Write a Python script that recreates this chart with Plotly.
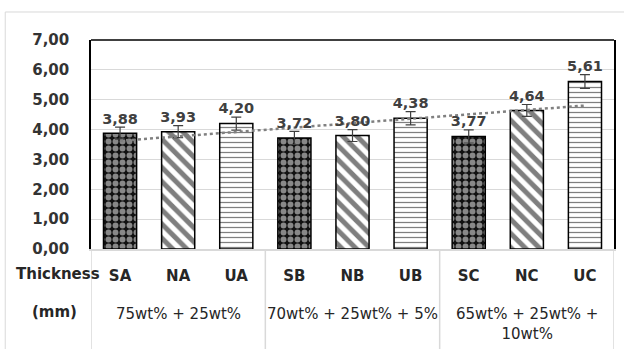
import numpy as np
import plotly.graph_objects as go

categories = ["SA", "NA", "UA", "SB", "NB", "UB", "SC", "NC", "UC"]
thickness = [3.88, 3.93, 4.20, 3.72, 3.80, 4.38, 3.77, 4.64, 5.61]
errors = [0.20, 0.20, 0.22, 0.22, 0.20, 0.22, 0.22, 0.20, 0.23]
groups = ["75wt% + 25wt%", "70wt% + 25wt% + 5%", "65wt% + 25wt% +<br>10wt%"]
group_size = 3
y_ticks = [0, 1, 2, 3, 4, 5, 6, 7]

# pattern family per leading letter: (shape, size, solidity, fg, bg)
styles = {
    "S": (".", 7, 0.55, "white", "#111111"),
    "N": ("\\", 10, 0.5, "black", "white"),
    "U": ("-", 5, 0.25, "black", "white"),
}

FONT = "DejaVu Sans"
fig = go.Figure()
for key, (shape, size, sol, fg, bg) in styles.items():
    idx = [i for i, c in enumerate(categories) if c[0] == key]
    fig.add_trace(go.Bar(
        x=[categories[i] for i in idx], y=[thickness[i] for i in idx], width=0.57,
        marker=dict(color=bg, line=dict(color="black", width=1.5),
                    pattern=dict(shape=shape, size=size, solidity=sol,
                                 fgcolor=fg, fillmode="overlay")),
        error_y=dict(type="data", array=[errors[i] for i in idx], color="#404040",
                     thickness=1.2, width=5),
        showlegend=False,
    ))

# linear trend line computed from the data
xi = np.arange(len(thickness))
coef = np.polyfit(xi, thickness, 1)
trend = np.polyval(coef, xi)
fig.add_trace(go.Scatter(x=categories, y=trend, mode="lines",
                         line=dict(color="#808080", width=2.5, dash="dot"),
                         showlegend=False, hoverinfo="skip"))

# data labels above the error bars
fig.add_trace(go.Scatter(
    x=categories, y=[v + e for v, e in zip(thickness, errors)],
    mode="text", text=[f"{v:.2f}".replace(".", ",") for v in thickness],
    textposition="top center",
    textfont=dict(family=FONT, size=14.5, color="#404040", weight="bold"),
    showlegend=False, hoverinfo="skip"))

fig.update_layout(
    width=624, height=349,
    margin=dict(l=91, r=10, t=40, b=100, autoexpand=False),
    paper_bgcolor="white", plot_bgcolor="white",
    separators=",.",
    font=dict(family=FONT, color="#404040"),
    barmode="overlay",
)
fig.update_yaxes(range=[0, 7], tickvals=y_ticks, tickformat=".2f", automargin=False,
                 showgrid=True, gridcolor="#d9d9d9", gridwidth=1,
                 showline=True, linecolor="black", linewidth=1.5, mirror=True,
                 ticks="", ticklabelstandoff=17, zeroline=False,
                 tickfont=dict(family=FONT, size=15, color="#333333", weight="bold"))
fig.update_xaxes(showline=True, linecolor="#d9d9d9", linewidth=1.5, automargin=False,
                 ticks="", ticklabelstandoff=12,
                 categoryorder="array", categoryarray=categories,
                 tickfont=dict(family=FONT, size=15, color="#262626", weight="bold"),
                 range=[-0.5, len(categories) - 0.5])

# top border of plot area
fig.add_shape(type="line", xref="paper", yref="paper", x0=0, x1=1, y0=1, y1=1,
              line=dict(color="black", width=1.5))

# group separators
for k in range(len(groups) + 1):
    xb = k * group_size - 0.5
    fig.add_shape(type="line", xref="x", yref="paper", x0=xb, x1=xb, y0=0, y1=-0.48,
                  line=dict(color="#d9d9d9", width=1.5))
for k, g in enumerate(groups):
    fig.add_annotation(x=k * group_size + 1, xref="x", y=-0.26, yref="paper",
                       text=g, showarrow=False, yanchor="top",
                       font=dict(family=FONT, size=15, color="#262626"))

fig.add_annotation(x=-0.064, xref="paper", y=-0.12, yref="paper", text="Thickness",
                   showarrow=False, xanchor="center", yanchor="middle",
                   font=dict(family=FONT, size=15, color="#262626", weight="bold"))
fig.add_annotation(x=-0.069, xref="paper", y=-0.30, yref="paper", text="(mm)",
                   showarrow=False, xanchor="center", yanchor="middle",
                   font=dict(family=FONT, size=15, color="#262626", weight="bold"))

# chart outer border (light)
fig.add_shape(type="line", xref="paper", yref="paper", x0=-0.164, x1=1.02, y0=1.134, y1=1.134,
              line=dict(color="#d9d9d9", width=1))
fig.add_shape(type="line", xref="paper", yref="paper", x0=-0.164, x1=-0.164, y0=1.134, y1=-0.48,
              line=dict(color="#d9d9d9", width=1))

fig.write_html("out.html", config={"displayModeBar": False},
               post_script="document.body.style.margin='0';")
